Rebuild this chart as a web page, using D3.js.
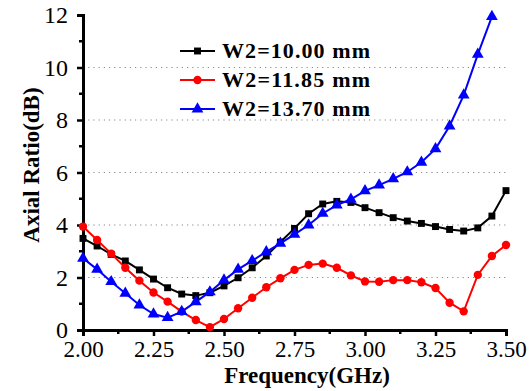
<!DOCTYPE html>
<html>
<head>
<meta charset="utf-8">
<script src="https://cdn.jsdelivr.net/npm/d3@7/dist/d3.min.js"></script>
<style>
  body { margin: 0; background: #fff; }
  svg text { font-family: "Times New Roman", "Liberation Serif", serif; }
</style>
</head>
<body>
<div id="chart"></div>
<script>
// frequency points (GHz)
const freq = [2.00, 2.05, 2.10, 2.15, 2.20, 2.25, 2.30, 2.35, 2.40, 2.45, 2.50, 2.55, 2.60, 2.65, 2.70,
  2.75, 2.80, 2.85, 2.90, 2.95, 3.00, 3.05, 3.10, 3.15, 3.20, 3.25, 3.30, 3.35, 3.40, 3.45, 3.50];

const w2_1000 = [3.49, 3.20, 2.88, 2.63, 2.29, 1.94, 1.61, 1.37, 1.31, 1.42, 1.68, 1.99, 2.37, 2.82, 3.35,
  3.87, 4.43, 4.80, 4.90, 4.86, 4.66, 4.47, 4.28, 4.15, 4.06, 3.94, 3.83, 3.77, 3.89, 4.34, 5.31];
const w2_1185 = [3.94, 3.43, 2.91, 2.37, 1.88, 1.43, 1.08, 0.70, 0.38, 0.11, 0.42, 0.83, 1.23, 1.63, 1.97,
  2.29, 2.48, 2.53, 2.37, 2.08, 1.85, 1.84, 1.90, 1.90, 1.82, 1.60, 1.04, 0.71, 2.10, 2.82, 3.24];
// last sample missing for this one (curve stops at 3.45 GHz)
const w2_1370 = [2.73, 2.31, 1.84, 1.40, 0.95, 0.61, 0.47, 0.70, 1.07, 1.45, 1.90, 2.31, 2.64, 2.98, 3.30,
  3.64, 4.00, 4.44, 4.76, 4.98, 5.30, 5.52, 5.76, 6.02, 6.39, 6.90, 7.77, 8.95, 10.50, 11.94];

const seriesNames = ["W2=10.00 mm", "W2=11.85 mm", "W2=13.70 mm"];
const xTicks = [2.00, 2.25, 2.50, 2.75, 3.00, 3.25, 3.50];
const yTicks = [0, 2, 4, 6, 8, 10, 12];

const width = 531, height = 391;
const svg = d3.select("#chart").append("svg")
  .attr("width", width)
  .attr("height", height);

const x = d3.scaleLinear().domain([2, 3.5]).range([83, 506]);
const y = d3.scaleLinear().domain([0, 12]).range([330, 15]);

// dotted grid
svg.append("g")
  .selectAll("line")
  .data(yTicks.filter(d => d > 0 && d < 12))
  .enter().append("line")
  .attr("x1", x(2)).attr("x2", x(3.5))
  .attr("y1", d => y(d)).attr("y2", d => y(d))
  .attr("stroke", "#888")
  .attr("stroke-width", 1.2)
  .attr("stroke-dasharray", "1.2,4");

// minor ticks
const minorX = d3.range(2.125, 3.5, 0.25);
const minorY = d3.range(1, 12, 2);
svg.append("g").selectAll("line").data(minorX).enter().append("line")
  .attr("x1", d => x(d)).attr("x2", d => x(d))
  .attr("y1", y(0)).attr("y2", y(0) + 4)
  .attr("stroke", "#000").attr("stroke-width", 2.5);
svg.append("g").selectAll("line").data(minorY).enter().append("line")
  .attr("y1", d => y(d)).attr("y2", d => y(d))
  .attr("x1", x(2)).attr("x2", x(2) - 4)
  .attr("stroke", "#000").attr("stroke-width", 2.5);

const xAxis = svg.append("g")
  .attr("transform", `translate(0,${y(0)})`)
  .call(d3.axisBottom(x).tickValues(xTicks).tickFormat(d3.format(".2f")).tickSize(6).tickPadding(5));
const yAxis = svg.append("g")
  .attr("transform", `translate(${x(2)},0)`)
  .call(d3.axisLeft(y).tickValues(yTicks).tickFormat(d3.format("d")).tickSize(6).tickPadding(9));

[xAxis, yAxis].forEach(g => {
  g.select(".domain").attr("stroke", "#000").attr("stroke-width", 3);
  g.selectAll(".tick line").attr("stroke", "#000").attr("stroke-width", 2.5);
  g.selectAll(".tick text")
    .attr("fill", "#000")
    .style("font-family", "'Times New Roman', 'Liberation Serif', serif")
    .style("font-size", "23px");
});
yAxis.selectAll(".tick text").style("font-size", "24px");

// axis titles
svg.append("text")
  .attr("x", 307).attr("y", 383)
  .attr("text-anchor", "middle")
  .style("font-size", "23px").style("font-weight", "bold")
  .text("Frequency(GHz)");
svg.append("text")
  .attr("transform", "translate(39,165) rotate(-90)")
  .attr("text-anchor", "middle")
  .style("font-size", "23px").style("font-weight", "bold")
  .text("Axial Ratio(dB)");

const colors = ["#000000", "#ff0000", "#0000ff"];
const data = [w2_1000, w2_1185, w2_1370].map(vals => vals.map((v, i) => ({ f: freq[i], v: v })));
const symbols = [d3.symbolSquare, d3.symbolCircle, d3.symbolTriangle];
const symbolSizes = [48, 55, 60];

const line = d3.line().x(d => x(d.f)).y(d => y(d.v));

data.forEach((pts, k) => {
  svg.append("path")
    .datum(pts)
    .attr("d", line)
    .attr("fill", "none")
    .attr("stroke", colors[k])
    .attr("stroke-width", 2);
  svg.append("g").selectAll("path")
    .data(pts)
    .enter().append("path")
    .attr("d", d3.symbol().type(symbols[k]).size(symbolSizes[k]))
    .attr("transform", d => `translate(${x(d.f)},${y(d.v)})`)
    .attr("fill", colors[k]);
});

// legend
const legend = svg.append("g");
seriesNames.forEach((name, k) => {
  const ly = 51 + k * 29;
  legend.append("line")
    .attr("x1", 180).attr("x2", 215)
    .attr("y1", ly).attr("y2", ly)
    .attr("stroke", colors[k]).attr("stroke-width", 2);
  legend.append("path")
    .attr("d", d3.symbol().type(symbols[k]).size(symbolSizes[k]))
    .attr("transform", `translate(197.5,${ly})`)
    .attr("fill", colors[k]);
  legend.append("text")
    .attr("x", 222).attr("y", ly + 7)
    .attr("textLength", 148)
    .attr("lengthAdjust", "spacing")
    .style("font-size", "22px").style("font-weight", "bold")
    .attr("fill", "#000")
    .text(name);
});
</script>
</body>
</html>
